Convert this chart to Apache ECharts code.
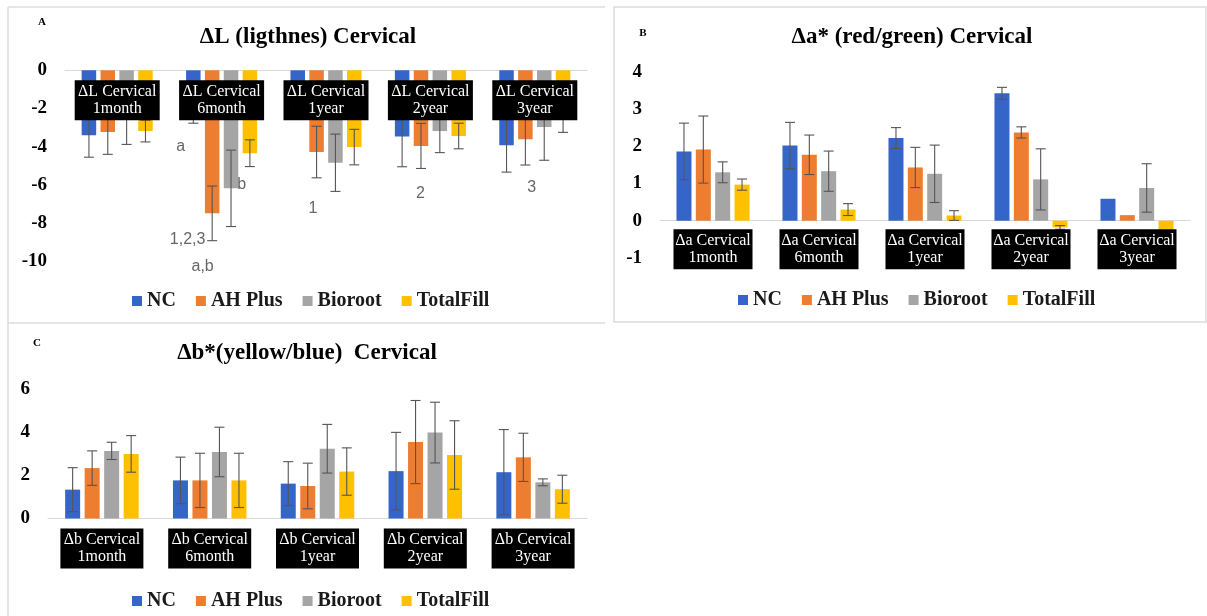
<!DOCTYPE html>
<html><head><meta charset="utf-8">
<script src="https://cdn.jsdelivr.net/npm/echarts@6/dist/echarts.min.js"></script>
<style>html,body{margin:0;padding:0;background:#fff}#c{width:1207px;height:616px}</style>
</head><body><div id="c"></div>
<script>
// ---------- DATA ----------
const groups = ['1month', '6month', '1year', '2year', '3year'];
const seriesNames = ['NC', 'AH Plus', 'Bioroot', 'TotalFill'];

// Panel A: ΔL
const dL_NC  = [-3.40, -2.30, -2.00, -3.47, -3.93];
const dL_AH  = [-3.23, -7.49, -4.28, -3.96, -3.61];
const dL_Bio = [-2.60, -6.18, -4.84, -3.18, -2.97];
const dL_TF  = [-3.18, -4.34, -4.02, -3.44, -2.50];
const dL_NC_sd  = [1.15, 0.47, 0.40, 1.58, 1.40];
const dL_AH_sd  = [1.17, 1.43, 1.35, 1.18, 1.35];
const dL_Bio_sd = [1.28, 2.00, 1.50, 1.13, 1.74];
const dL_TF_sd  = [0.57, 0.70, 0.93, 0.67, 0.75];

// Panel B: Δa*
const da_NC  = [1.86, 2.02, 2.22, 3.42, 0.59];
const da_AH  = [1.91, 1.77, 1.43, 2.37, 0.15];
const da_Bio = [1.30, 1.33, 1.26, 1.11, 0.88];
const da_TF  = [0.97, 0.30, 0.14, -0.18, -0.30];
const da_NC_sd  = [0.76, 0.62, 0.28, 0.16, 0];
const da_AH_sd  = [0.90, 0.53, 0.54, 0.15, 0];
const da_Bio_sd = [0.28, 0.54, 0.77, 0.82, 0.65];
const da_TF_sd  = [0.15, 0.16, 0.13, 0.05, 0];

// Panel C: Δb*
const db_NC  = [1.34, 1.77, 1.62, 2.20, 2.15];
const db_AH  = [2.34, 1.77, 1.51, 3.55, 2.84];
const db_Bio = [3.14, 3.09, 3.24, 3.99, 1.68];
const db_TF  = [3.00, 1.77, 2.18, 2.95, 1.36];
const db_NC_sd  = [1.02, 1.08, 1.02, 1.80, 1.98];
const db_AH_sd  = [0.80, 1.26, 1.06, 1.93, 1.12];
const db_Bio_sd = [0.40, 1.15, 1.13, 1.41, 0.16];
const db_TF_sd  = [0.85, 1.26, 1.10, 1.59, 0.65];

// Panel A significance annotations
const annText  = ['a', 'b', '1,2,3', 'a,b', '1', '2', '3'];
const annGroup = [1, 1, 1, 1, 2, 3, 4];
const annValue = [-4.02, -6.0, -8.88, -10.3, -7.26, -6.47, -6.16];

// tick settings
const yA = {min: -10, max: 0, interval: 2};
const yB = {min: -1, max: 4, interval: 1};
const yC = {min: 0, max: 6, interval: 2};

// ---------- STYLE ----------
const annDx = [-41, 20, -34, -19, -13, -10, -3];
const colors = ['#3565C8', '#ED7D31', '#A5A5A5', '#FFC000'];
const SERIF = '"Liberation Serif", "Times New Roman", serif';

const panels = [
  {prefix: 'ΔL', vals: [dL_NC, dL_AH, dL_Bio, dL_TF], sds: [dL_NC_sd, dL_AH_sd, dL_Bio_sd, dL_TF_sd],
   grid: {left: 65, right: 620, top: 70.3, height: 191}, y: yA, bw: 14.5, gap: 0.30, margin: 10, lw: 79},
  {prefix: 'Δa', vals: [da_NC, da_AH, da_Bio, da_TF], sds: [da_NC_sd, da_AH_sd, da_Bio_sd, da_TF_sd],
   grid: {left: 660, right: 17, top: 71.7, height: 186.3}, y: yB, bw: 15, gap: 0.29, margin: 8.5, lw: 73},
  {prefix: 'Δb', vals: [db_NC, db_AH, db_Bio, db_TF], sds: [db_NC_sd, db_AH_sd, db_Bio_sd, db_TF_sd],
   grid: {left: 48, right: 620, top: 389.3, height: 129.2}, y: yC, bw: 15, gap: 0.30, margin: 10, lw: 77}
];

const grids = [], xAxes = [], yAxes = [], series = [];
panels.forEach((p, pi) => {
  grids.push(p.grid);
  xAxes.push({
    type: 'category', gridIndex: pi, data: groups,
    axisLine: {onZero: true, lineStyle: {color: '#d9d9d9', width: 1}},
    axisTick: {show: false},
    axisLabel: {show: false}
  });
  yAxes.push({
    type: 'value', gridIndex: pi, min: p.y.min, max: p.y.max, interval: p.y.interval,
    axisLine: {show: false}, axisTick: {show: false}, splitLine: {show: false},
    axisLabel: {margin: 18, color: '#000', fontFamily: SERIF, fontWeight: 'bold', fontSize: 19}
  });
  p.vals.forEach((arr, si) => {
    series.push({
      name: seriesNames[si], type: 'bar', xAxisIndex: pi, yAxisIndex: pi,
      data: arr, barWidth: p.bw, barGap: (p.gap * 100) + '%',
      itemStyle: {color: colors[si]}, z: 2
    });
  });
  const pitch = p.bw * (1 + p.gap);
  const errData = [];
  p.vals.forEach((arr, si) => arr.forEach((v, gi) => errData.push([gi, si, v, p.sds[si][gi]])));
  series.push({
    type: 'custom', xAxisIndex: pi, yAxisIndex: pi, z: 3, clip: false, silent: true,
    encode: {x: 0, y: 2},
    data: errData,
    renderItem: (params, api) => {
      const gi = api.value(0), si = api.value(1), v = api.value(2), sd = api.value(3);
      if (!sd) return;
      const c = api.coord([gi, v]);
      const x = c[0] + (si - 1.5) * pitch;
      const t = api.coord([gi, v + sd])[1];
      const b = api.coord([gi, v - sd])[1];
      const st = {stroke: '#555555', lineWidth: 1.1};
      return {type: 'group', children: [
        {type: 'line', shape: {x1: x, y1: t, x2: x, y2: b}, style: st},
        {type: 'line', shape: {x1: x - 5, y1: t, x2: x + 5, y2: t}, style: st},
        {type: 'line', shape: {x1: x - 5, y1: b, x2: x + 5, y2: b}, style: st}
      ]};
    }
  });
  // category labels: black boxes placed just below the zero line, drawn over the bars
  series.push({
    type: 'custom', xAxisIndex: pi, yAxisIndex: pi, z: 10, clip: false, silent: true,
    encode: {x: 0, y: 1},
    data: groups.map((g, gi) => [gi, 0]),
    renderItem: (params, api) => {
      const gi = api.value(0);
      const c = api.coord([gi, 0]);
      return {
        type: 'text', x: c[0], y: c[1] + p.margin,
        style: {
          text: p.prefix + ' Cervical\n' + groups[gi],
          fill: '#fff', backgroundColor: '#000', padding: [3, 3],
          font: '16px ' + SERIF, lineHeight: 17, width: p.lw,
          align: 'center', verticalAlign: 'top'
        }
      };
    }
  });
});

// annotations on panel A
series.push({
  type: 'scatter', xAxisIndex: 0, yAxisIndex: 0, symbolSize: 0, clip: false, silent: true, z: 4,
  data: annText.map((t, i) => ({
    value: [annGroup[i], annValue[i]],
    label: {show: true, formatter: t, position: 'inside', offset: [annDx[i], 0],
            color: '#404040', fontFamily: '"Liberation Sans", Arial, sans-serif', fontSize: 16}
  }))
});

const legendBase = {
  data: seriesNames, icon: 'rect', itemWidth: 10, itemHeight: 10, itemGap: 20,
  textStyle: {fontFamily: SERIF, fontWeight: 'bold', fontSize: 20, color: '#1a1a1a'}
};

const txt = (text, x, y, size) => ({
  type: 'text', x: x, y: y, silent: true,
  style: {text: text, fill: '#000', font: 'bold ' + size + 'px ' + SERIF, textAlign: 'center', textVerticalAlign: 'middle'}
});
const ln = (x1, y1, x2, y2) => ({type: 'line', silent: true, shape: {x1, y1, x2, y2}, style: {stroke: '#dcdcdc', lineWidth: 1.5}});

const option = {
  animation: false,
  grid: grids, xAxis: xAxes, yAxis: yAxes, series: series,
  legend: [
    Object.assign({left: 127, top: 286}, legendBase),
    Object.assign({left: 733, top: 285}, legendBase),
    Object.assign({left: 127, top: 586}, legendBase)
  ],
  graphic: [
    ln(8, 7, 605, 7), ln(8, 7, 8, 323), ln(8, 323, 605, 323),
    ln(8, 323, 8, 616),
    {type: 'rect', silent: true, shape: {x: 614, y: 7, width: 592, height: 315}, style: {fill: 'none', stroke: '#dcdcdc', lineWidth: 1.5}},
    txt('ΔL (ligthnes) Cervical', 308, 37, 23),
    txt('Δa* (red/green) Cervical', 912, 37, 23),
    txt('Δb*(yellow/blue)  Cervical', 307, 353, 23),
    txt('A', 42, 22, 11),
    txt('B', 643, 33, 11),
    txt('C', 37, 343, 11)
  ]
};
const chart = echarts.init(document.getElementById('c'));
chart.setOption(option);
</script></body></html>
